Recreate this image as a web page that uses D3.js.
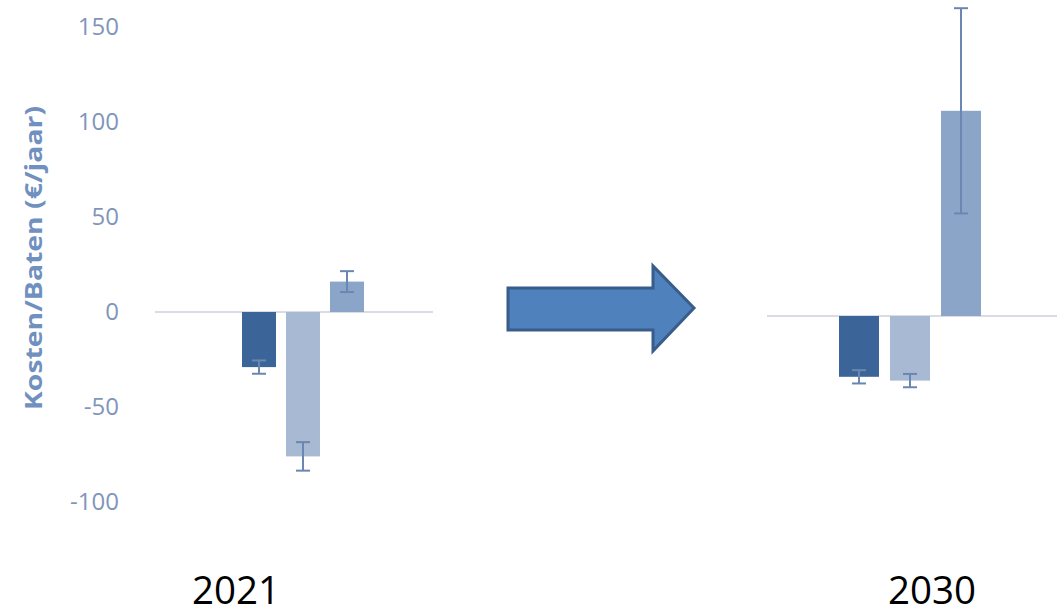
<!DOCTYPE html>
<html>
<head>
<meta charset="utf-8">
<script src="https://cdn.jsdelivr.net/npm/d3@7"></script>
<style>
  html, body { margin: 0; padding: 0; background: #ffffff; }
  svg { display: block; }
</style>
</head>
<body>
<svg id="chart" width="1057" height="615"></svg>
<script>
// ---- data ----
const years = ["2021", "2030"];
const series = ["Reeks 1", "Reeks 2", "Reeks 3"];
const values2021 = [-29, -76, 16];
const errors2021 = [3.5, 7.5, 5.5];
const values2030 = [-32, -34, 108];
const errors2030 = [3.5, 3.5, 54];
const tickValues = [-100, -50, 0, 50, 100, 150];
const axisTitle = "Kosten/Baten (€/jaar)";

// ---- styles ----
const colors = ["#3b6599", "#a7b9d3", "#8aa5c8"];
const errColor = "#6a87b1";
const svg = d3.select("#chart");

// ---- scales ----
const yLeft = d3.scaleLinear().domain([-100, 150]).range([502, 27]);
const yRight = d3.scaleLinear().domain([-100, 150]).range([506, 31]);
const xLeft = d3.scaleBand().domain(series).range([242, 364]).paddingInner(0.227).paddingOuter(0);
const xRight = d3.scaleBand().domain(series).range([839, 981]).paddingInner(0.216).paddingOuter(0);

// ---- y axis ----
const axis = svg.append("g")
  .attr("transform", "translate(119,0)")
  .call(d3.axisLeft(yLeft).tickValues(tickValues).tickSize(0).tickPadding(0).tickFormat(d => String(d)));
axis.select(".domain").remove();
axis.selectAll("text")
  .attr("fill", "#7f96ba")
  .attr("font-family", "'Open Sans', sans-serif")
  .attr("font-size", 24);

svg.append("text")
  .attr("transform", "translate(42,258) rotate(-90)")
  .attr("text-anchor", "middle")
  .attr("font-family", "'Open Sans', sans-serif")
  .attr("font-weight", "bold")
  .attr("font-size", 23)
  .attr("fill", "#7090bf")
  .attr("textLength", 304)
  .attr("lengthAdjust", "spacingAndGlyphs")
  .text(axisTitle);

// ---- panels ----
function panel(x, y, values, errors, lineX0, lineX1) {
  const g = svg.append("g");
  g.append("line")
    .attr("x1", lineX0).attr("x2", lineX1)
    .attr("y1", y(0)).attr("y2", y(0))
    .attr("stroke", "#d9dce3").attr("stroke-width", 2);
  const data = series.map((s, i) => ({ s, v: values[i], e: errors[i], c: colors[i] }));
  g.selectAll("rect.bar").data(data).join("rect")
    .attr("class", "bar")
    .attr("x", d => x(d.s))
    .attr("width", x.bandwidth())
    .attr("y", d => y(Math.max(0, d.v)))
    .attr("height", d => Math.abs(y(d.v) - y(0)))
    .attr("fill", d => d.c);
  const eb = g.selectAll("g.err").data(data).join("g").attr("class", "err")
    .attr("stroke", errColor).attr("stroke-width", 2);
  const cx = d => x(d.s) + x.bandwidth() / 2;
  eb.append("line")
    .attr("x1", cx).attr("x2", cx)
    .attr("y1", d => y(d.v + d.e)).attr("y2", d => y(d.v - d.e));
  [1, -1].forEach(sgn => {
    eb.append("line")
      .attr("x1", d => cx(d) - 7).attr("x2", d => cx(d) + 7)
      .attr("y1", d => y(d.v + sgn * d.e)).attr("y2", d => y(d.v + sgn * d.e));
  });
}
panel(xLeft, yLeft, values2021, errors2021, 155, 433);
panel(xRight, yRight, values2030, errors2030, 767, 1057);

// ---- arrow ----
svg.append("path")
  .attr("d", "M508,288 L653,288 L653,266 L694,308 L653,351 L653,330 L508,330 Z")
  .attr("fill", "#4f81bd")
  .attr("stroke", "#385d8a")
  .attr("stroke-width", 3)
  .attr("stroke-linejoin", "miter");

// ---- year labels ----
const yearX = [236, 932];
svg.selectAll("text.year").data(years).join("text")
  .attr("class", "year")
  .attr("x", (d, i) => yearX[i])
  .attr("y", 604)
  .attr("text-anchor", "middle")
  .attr("font-family", "'Open Sans', sans-serif")
  .attr("font-size", 38)
  .attr("fill", "#000")
  .attr("textLength", 88)
  .attr("lengthAdjust", "spacingAndGlyphs")
  .text(d => d);
</script>
</body>
</html>
